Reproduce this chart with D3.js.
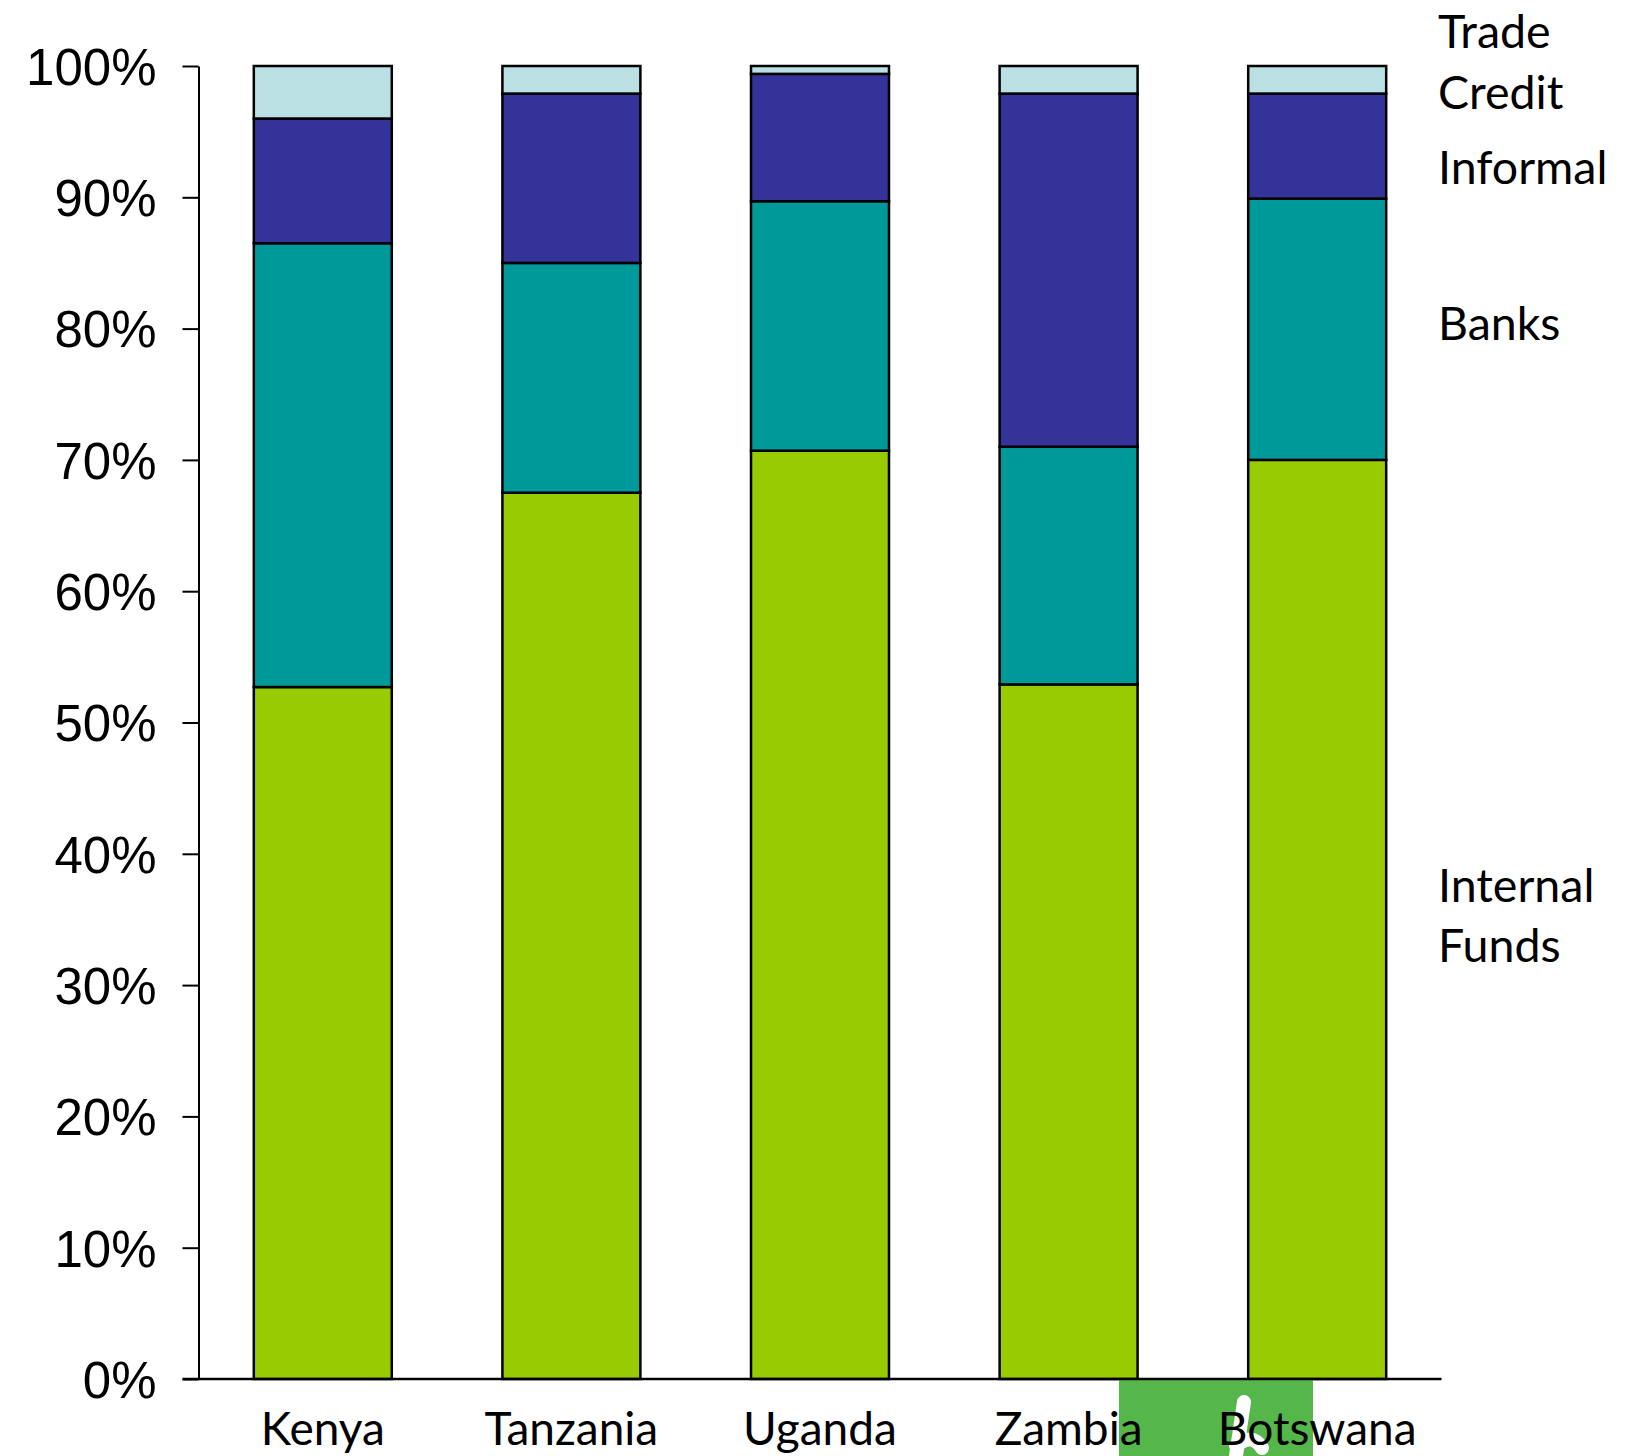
<!DOCTYPE html>
<html>
<head>
<meta charset="utf-8">
<script src="https://cdn.jsdelivr.net/npm/d3@7"></script>
<style>
  html, body { margin: 0; padding: 0; background: #fff; }
  svg { display: block; }
</style>
</head>
<body>
<svg id="chart" width="1638" height="1456"></svg>
<script>
const countries = ["Kenya", "Tanzania", "Uganda", "Zambia", "Botswana"];
const internalFunds = [52.7, 67.5, 70.7, 52.9, 70.0];
const banks = [33.8, 17.5, 19.0, 18.1, 19.9];
const informal = [9.5, 12.9, 9.7, 26.9, 8.0];
const tradeCredit = [4.0, 2.1, 0.6, 2.1, 2.1];
const yTicks = [0, 10, 20, 30, 40, 50, 60, 70, 80, 90, 100];
const seriesKeys = ["Internal Funds", "Banks", "Informal", "Trade Credit"];
const seriesColors = ["#99CC00", "#009999", "#333399", "#BBE0E3"];
const legendLabels = [["Internal", "Funds"], ["Banks"], ["Informal"], ["Trade", "Credit"]];

const rows = countries.map((c, i) => ({
  country: c,
  "Internal Funds": internalFunds[i],
  "Banks": banks[i],
  "Informal": informal[i],
  "Trade Credit": tradeCredit[i]
}));

const svg = d3.select("#chart");
const plotLeft = 198.5, plotRight = 1441.5, plotTop = 66, plotBottom = 1379;

const x = d3.scaleBand().domain(countries).range([plotLeft, plotRight]).paddingInner(0.445).paddingOuter(0.2225);
const y = d3.scaleLinear().domain([0, 100]).range([plotBottom, plotTop]);
const color = d3.scaleOrdinal().domain(seriesKeys).range(seriesColors);

const stacked = d3.stack().keys(seriesKeys)(rows);

// bars
svg.append("g").selectAll("g").data(stacked).join("g")
  .attr("fill", d => color(d.key))
  .selectAll("rect").data(d => d).join("rect")
  .attr("x", d => x(d.data.country))
  .attr("width", x.bandwidth())
  .attr("y", d => y(d[1]))
  .attr("height", d => y(d[0]) - y(d[1]))
  .attr("stroke", "#000")
  .attr("stroke-width", 2.5);

// decorative green block at bottom (logo fragment)
svg.append("rect").attr("x", 1119).attr("y", 1378).attr("width", 194).attr("height", 78).attr("fill", "#55B74A");
svg.append("path")
  .attr("d", "M1244,1402 L1236,1456 M1236,1446 Q1252,1432 1262,1448")
  .attr("stroke", "#fff").attr("stroke-width", 14).attr("stroke-linecap", "round").attr("fill", "none");

// y axis
const yAxis = d3.axisLeft(y)
  .tickValues(yTicks)
  .tickFormat(d => d + "%")
  .tickSize(16)
  .tickSizeOuter(0)
  .tickPadding(26);
const gy = svg.append("g").attr("transform", `translate(${plotLeft},0)`).call(yAxis);
gy.select(".domain").attr("stroke", "#000").attr("stroke-width", 2);
gy.selectAll(".tick line").attr("stroke", "#000").attr("stroke-width", 2);
gy.selectAll(".tick text")
  .attr("font-family", "'Liberation Sans', Arial, sans-serif")
  .attr("font-size", 51)
  .attr("fill", "#000")
  .attr("dy", "0.36em");

// baseline
svg.append("line")
  .attr("x1", plotLeft - 16).attr("x2", plotRight)
  .attr("y1", y(0)).attr("y2", y(0))
  .attr("stroke", "#000").attr("stroke-width", 2.5);

// category labels
svg.append("g").selectAll("text").data(countries).join("text")
  .attr("x", d => x(d) + x.bandwidth() / 2)
  .attr("y", 1445)
  .attr("text-anchor", "middle")
  .attr("font-family", "Lato, 'Open Sans', sans-serif")
  .attr("font-size", 46)
  .attr("fill", "#000")
  .text(d => d);

// right side series labels
const legendBaselines = [[901.5, 962], [339.5], [184], [48, 108.6]];
const lg = svg.append("g");
seriesKeys.forEach((k, i) => {
  legendLabels[i].forEach((line, j) => {
    lg.append("text")
      .attr("x", 1438)
      .attr("y", legendBaselines[i][j])
      .attr("font-family", "Lato, 'Open Sans', sans-serif")
      .attr("font-size", 46.5)
      .attr("fill", "#000")
      .text(line);
  });
});
</script>
</body>
</html>
